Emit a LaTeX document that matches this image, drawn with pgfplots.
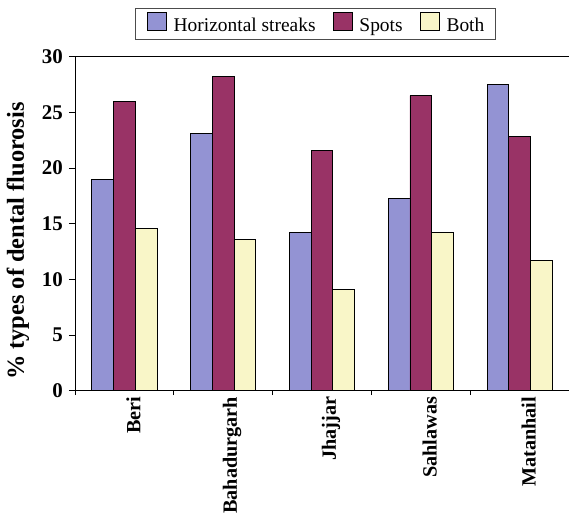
\documentclass[border=0pt]{standalone}
\usepackage{pgfplots}
\pgfplotsset{compat=1.18}
\usepackage{fontspec}
\setmainfont{Liberation Serif}
\definecolor{cblue}{HTML}{9393D3}
\definecolor{cmaroon}{HTML}{993366}
\definecolor{cyellow}{HTML}{F9F6C8}
\begin{document}
\begin{tikzpicture}
\useasboundingbox (-75bp,-125.3bp) rectangle (494bp,390.7bp);
\begin{axis}[
  at={(0,0)}, anchor=south west,
  scale only axis, width=494bp, height=334bp,
  ybar=0pt, bar width=21.7bp,
  xmin=-0.5, xmax=4.5, ymin=0, ymax=30,
  axis x line*=bottom, axis y line*=left,
  axis line style={line width=0.9pt, -},
  xtick={0,1,2,3,4},
  xticklabels={Beri,Bahadurgarh,Jhajjar,Sahlawas,Matanhail},
  minor xtick={-0.5,0.5,1.5,2.5,3.5,4.5},
  ytick={0,5,...,30},
  tick align=outside,
  major tick length=6bp, minor tick length=4.5bp,
  x tick style={draw=none},
  minor x tick style={draw=black, line width=0.8pt},
  y tick style={line width=0.8pt, black},
  /pgf/number format/assume math mode=true,
  ticklabel style={font=\fontsize{21}{24}\selectfont\bfseries},
  xticklabel style={rotate=90, anchor=east, inner sep=0pt, yshift=-9bp, font=\fontsize{20.3}{24}\selectfont\bfseries},
  yticklabel style={inner sep=0pt, xshift=-6bp},
  ylabel={\% types of dental fluorosis},
  every axis y label/.style={at={(rel axis cs:0,0.448)}, xshift=-68.5bp, rotate=90, anchor=north, inner sep=0pt, font=\fontsize{24.5}{28}\selectfont\bfseries},
  legend columns=3,
  legend style={at={(0.487,1.052)}, anchor=south, draw=black!70, line width=0.8pt,
    font=\fontsize{19.5}{22}\selectfont, inner xsep=11.5bp, inner ysep=4bp,
    nodes={inner xsep=0pt, inner ysep=2bp},
    /tikz/every odd column/.append style={column sep=7bp},
    /tikz/every even column/.append style={column sep=17bp}},
  legend image code/.code={\draw[#1, line width=0.9pt, draw=black] (0bp,-5bp) rectangle (19bp,13bp);},
  every axis plot/.append style={draw=black, line width=0.9pt},
]
\addplot[fill=cblue] coordinates {(0,19.0) (1,23.1) (2,14.2) (3,17.3) (4,27.5)};
\addplot[fill=cmaroon] coordinates {(0,26.0) (1,28.2) (2,21.6) (3,26.5) (4,22.8)};
\addplot[fill=cyellow] coordinates {(0,14.6) (1,13.6) (2,9.1) (3,14.2) (4,11.7)};
\legend{Horizontal streaks,Spots,Both}
\end{axis}
\draw[line width=0.9pt] (0,334bp) -- (494bp,334bp);
\end{tikzpicture}
\end{document}
